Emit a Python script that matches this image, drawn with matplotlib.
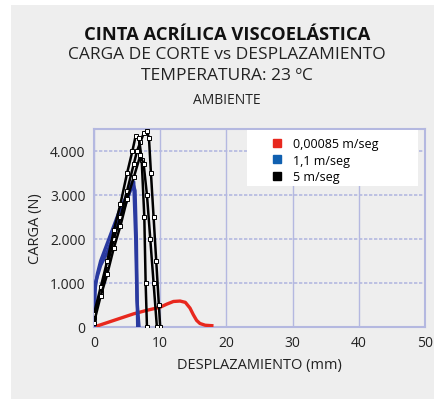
import matplotlib
matplotlib.use("Agg")
import matplotlib.pyplot as plt
from matplotlib.patches import Rectangle
from matplotlib.lines import Line2D

# red: 0,00085 m/seg
red_x = [0, 2, 4, 6, 8, 10, 11, 12, 13, 13.8, 14.5, 15, 15.5, 16, 16.8, 17.8]
red_y = [0, 100, 200, 300, 380, 450, 520, 580, 590, 560, 430, 280, 150, 80, 40, 30]

# blue: 1,1 m/seg (two tests)
blue1_x = [0, 0.1, 0.5, 1, 2, 3, 4, 5, 5.8, 6.2, 6.4, 6.5, 6.6]
blue1_y = [0, 800, 1200, 1500, 1900, 2300, 2700, 3000, 3300, 3100, 2000, 800, 0]
blue2_x = [0, 0.2, 1, 2, 3, 4, 5, 6, 6.3, 6.5, 6.8]
blue2_y = [0, 1000, 1400, 1700, 2100, 2500, 2900, 3300, 2000, 600, 0]

# black: 5 m/seg (three tests)
black1_x = [0, 1, 2, 3, 4, 5, 6, 6.5, 7, 7.5, 8, 8.3, 8.6, 9, 9.4, 9.8, 10]
black1_y = [200, 800, 1400, 2000, 2500, 3100, 3700, 4000, 4200, 4400, 4450, 4300, 3500, 2500, 1500, 500, 0]
black2_x = [0, 1, 2, 3, 4, 5, 5.8, 6.3, 6.8, 7.2, 7.6, 7.8, 8]
black2_y = [300, 900, 1500, 2200, 2800, 3500, 4000, 4350, 4300, 3800, 2500, 1000, 0]
black3_x = [0, 1, 2, 3, 4, 5, 6, 7, 7.5, 8, 8.5, 9, 9.5]
black3_y = [100, 700, 1200, 1800, 2300, 2900, 3400, 3900, 3700, 3000, 2000, 1000, 0]

x_ticks = [0, 10, 20, 30, 40, 50]
y_ticks = [0, 1000, 2000, 3000, 4000]
y_labels = ["0", "1.000", "2.000", "3.000", "4.000"]
legend_labels = ["0,00085 m/seg", "1,1 m/seg", "5 m/seg"]

plt.rcParams["font.family"] = ["Open Sans", "DejaVu Sans"]

GREY = "#eeeeee"
GRID = "#b4b8e0"
RED = "#e8281e"
BLUE = "#2a3aa0"

fig = plt.figure(figsize=(4.35, 4.02), dpi=100, facecolor="white")
fig.patches.append(Rectangle((11 / 435, 1 - 400 / 402), 1 - 11 / 435, 394 / 402,
                             transform=fig.transFigure, facecolor=GREY,
                             edgecolor="none", zorder=-1))

ax = fig.add_axes([94 / 435, 1 - 328 / 402, 331 / 435, 198 / 402])
ax.set_facecolor(GREY)

ax.plot(red_x, red_y, color=RED, lw=2.4, zorder=3)
for bx, by in [(blue1_x, blue1_y), (blue2_x, blue2_y)]:
    ax.plot(bx, by, color=BLUE, lw=2.4, zorder=4)
for kx, ky in [(black1_x, black1_y), (black2_x, black2_y), (black3_x, black3_y)]:
    ax.plot(kx, ky, color="black", lw=1.8, marker="s", ms=3, mfc="white",
            mec="black", mew=0.7, zorder=5)

ax.set_xlim(0, 50)
ax.set_ylim(0, 4500)
ax.set_xticks(x_ticks)
ax.set_yticks(y_ticks)
ax.set_yticklabels(y_labels)
ax.tick_params(length=0, labelsize=10, pad=6, colors="#222222")
ax.xaxis.grid(True, color=GRID, lw=1.0)
ax.yaxis.grid(True, color=GRID, lw=1.2, linestyle=(0, (2, 1)))
ax.set_axisbelow(True)
for s in ax.spines.values():
    s.set_color(GRID)
    s.set_linewidth(1.5)

ax.set_xlabel("DESPLAZAMIENTO (mm)", fontsize=10.5, color="#222222", labelpad=5)
ax.set_ylabel("CARGA (N)", fontsize=10.5, color="#222222", labelpad=5)

# white legend panel
fig.patches.append(Rectangle((247 / 435, 1 - 187 / 402), 171 / 435, 56 / 402,
                             transform=fig.transFigure, facecolor="white",
                             edgecolor="none", zorder=6))
handles = [Line2D([], [], ls="none", marker="s", ms=6, color=c)
           for c in [RED, "#1060b0", "black"]]
leg = fig.legend(handles, legend_labels, loc="upper left",
                 bbox_to_anchor=(271 / 435, 1 - 138 / 402),
                 frameon=False, fontsize=9, handletextpad=0.8,
                 borderpad=0, labelspacing=0.3, handlelength=1.0, borderaxespad=0)
leg.set_zorder(7)

cx = 227 / 435
fig.text(cx, 1 - 35 / 402, "CINTA ACRÍLICA VISCOELÁSTICA", ha="center", va="center",
         fontsize=13.2, fontweight="bold", color="#111111")
fig.text(cx, 1 - 55 / 402, "CARGA DE CORTE vs DESPLAZAMIENTO", ha="center", va="center",
         fontsize=12.5, color="#222222")
fig.text(cx, 1 - 76 / 402, "TEMPERATURA: 23 ºC", ha="center", va="center",
         fontsize=12.5, color="#222222")
fig.text(cx, 1 - 100 / 402, "AMBIENTE", ha="center", va="center",
         fontsize=10, color="#222222")

fig.savefig("out.png", dpi=100, facecolor="white")
